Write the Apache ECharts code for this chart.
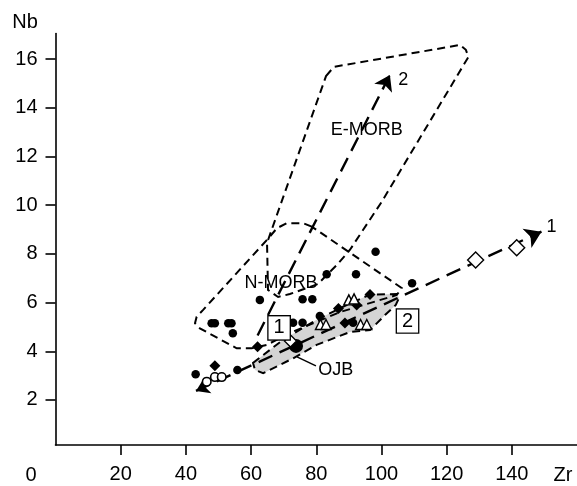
<!DOCTYPE html>
<html>
<head>
<meta charset="utf-8">
<script src="https://cdn.jsdelivr.net/npm/echarts@6/dist/echarts.min.js"></script>
<style>html,body{margin:0;padding:0;background:#fff;}#c{width:577px;height:486px;}</style>
</head>
<body>
<div id="c"></div>
<script>
// ---- data (Zr, Nb) ----
const xTicks = [20, 40, 60, 80, 100, 120, 140];
const yTicks = [2, 4, 6, 8, 10, 12, 14, 16];

const filledCircles = [[43.0,3.06],[55.8,3.23],[47.9,5.15],[48.9,5.15],[53.0,5.15],[54.0,5.15],[54.4,4.74],
  [62.7,6.11],[75.8,6.14],[78.8,6.14],[83.2,7.16],[92.2,7.16],[98.2,8.09],[109.4,6.79],
  [72.9,5.17],[75.8,5.17],[81.1,5.45],[91.3,5.17]];
const filledDiamonds = [[48.9,3.40],[62.0,4.19],[86.8,5.76],[92.4,5.90],[96.5,6.33],[88.8,5.16]];
const openTriangles = [[81.3,5.10],[83.0,5.10],[93.6,5.10],[95.5,5.10],[90.0,6.11],[91.6,6.15]];
const openCircles = [[46.4,2.75],[48.9,2.94],[51.0,2.94]];
const trendDiamonds = [[128.9,7.75],[141.5,8.25]];
const smallOpenDiamond = [[72.1,4.42]];
const bigCircle = [[73.8,4.22]];

const trend1 = [[43.1,2.37],[149.1,8.91]];
const trend2 = [[62.0,4.65],[102.6,15.35]];

const eMorb = [[83.0,15.30],[85.4,15.68],[124.1,16.58],[125.9,16.38],[126.7,16.09],[100.1,10.14],
  [90.3,8.16],[86.3,7.54],[83.2,7.13],[80.5,6.76],[71.9,6.35],[68.3,6.23],[65.2,6.52],[64.9,8.45]];
const nMorb = [[78.6,9.12],[76.0,9.26],[70.9,9.26],[67.9,9.05],[65.8,8.71],[45.3,5.70],[43.3,5.42],
  [42.8,5.15],[44.3,4.94],[55.6,4.12],[60.2,4.12],[64.8,4.26],[71.9,4.75],[87.3,5.61],[104.7,6.31],[106.2,6.60]];
const ojb = [[60.6,3.52],[69.8,4.47],[80.1,5.29],[89.3,5.90],[96.5,6.33],[104.7,6.35],[105.4,6.19],
  [104.4,5.90],[101.1,5.49],[96.5,4.87],[90.3,4.79],[80.1,4.26],[72.9,3.71],[63.7,3.10],[61.2,3.23]];
const ojbLeader = [[74.1,3.77],[79.9,3.40]];

// annotations: text, anchor (data units), boxed
const annotations = [
  ['E-MORB', 95.5, 13.08, false],
  ['N-MORB', 69.2, 6.80, false],
  ['OJB', 86.0, 3.22, false],
  ['1', 152.2, 9.12, false],
  ['2', 106.7, 15.14, false],
  ['1', 68.6, 4.96, true],
  ['2', 108.0, 5.24, true]
];

const FONT = 'Liberation Sans, Arial, sans-serif';

function polygonSeries(points, style, z) {
  return {
    type: 'custom', coordinateSystem: 'cartesian2d', silent: true, z: z, clip: false,
    data: [[points[0][0], points[0][1]]],
    renderItem: function (params, api) {
      return { type: 'polygon', shape: { points: points.map(p => api.coord(p)) }, style: style };
    }
  };
}
function polylineSeries(points, style, z) {
  return {
    type: 'custom', coordinateSystem: 'cartesian2d', silent: true, z: z, clip: false,
    data: [[points[0][0], points[0][1]]],
    renderItem: function (params, api) {
      return { type: 'polyline', shape: { points: points.map(p => api.coord(p)) }, style: style };
    }
  };
}

const chart = echarts.init(document.getElementById('c'), null, { renderer: 'canvas' });
const dashStyle = { fill: null, stroke: '#000', lineWidth: 2, lineDash: [8, 5] };
const solid = { opacity: 1 };

chart.setOption({
  animation: false,
  backgroundColor: '#fff',
  grid: { left: 55.5, right: 0, top: 33.5, bottom: 41, containLabel: false },
  xAxis: {
    type: 'value', min: 0, max: 160, interval: 20,
    axisLine: { onZero: false, lineStyle: { color: '#000', width: 1.6 } },
    axisTick: { show: true, length: 10, customValues: xTicks, lineStyle: { color: '#000', width: 1.6 } },
    axisLabel: { customValues: xTicks, margin: 19, fontSize: 20, color: '#000', fontFamily: FONT },
    splitLine: { show: false }
  },
  yAxis: {
    type: 'value', min: 0.15, max: 17.05,
    axisLine: { show: true, onZero: false, lineStyle: { color: '#000', width: 1.6 } },
    axisTick: { show: true, length: 10, customValues: yTicks, lineStyle: { color: '#000', width: 1.6 } },
    axisLabel: { customValues: yTicks, margin: 18, fontSize: 20, color: '#000', fontFamily: FONT },
    splitLine: { show: false }
  },
  graphic: [
    { type: 'text', x: 25, y: 22, style: { text: 'Nb', font: '20px ' + FONT, fill: '#000', align: 'center', verticalAlign: 'middle' } },
    { type: 'text', x: 563, y: 475, style: { text: 'Zr', font: '20px ' + FONT, fill: '#000', align: 'center', verticalAlign: 'middle' } },
    { type: 'text', x: 31, y: 475, style: { text: '0', font: '20px ' + FONT, fill: '#000', align: 'center', verticalAlign: 'middle' } }
  ],
  series: [
    polygonSeries(ojb, { fill: '#d4d4d4', stroke: '#000', lineWidth: 2, lineDash: [8, 5] }, 1),
    polygonSeries(eMorb, dashStyle, 2),
    polygonSeries(nMorb, dashStyle, 2),
    polylineSeries(ojbLeader, { fill: null, stroke: '#000', lineWidth: 1.5 }, 2),
    {
      type: 'lines', coordinateSystem: 'cartesian2d', z: 3, silent: true,
      symbol: ['arrow', 'arrow'], symbolSize: [13, 16],
      lineStyle: { color: '#000', width: 2.4, type: [15, 8], opacity: 1 },
      data: [{ coords: trend1 }]
    },
    {
      type: 'lines', coordinateSystem: 'cartesian2d', z: 3, silent: true,
      symbol: ['none', 'arrow'], symbolSize: [1, 15],
      lineStyle: { color: '#000', width: 2.4, type: [15, 8], opacity: 1 },
      data: [{ coords: trend2 }]
    },
    { type: 'scatter', z: 5, data: filledCircles, symbol: 'circle', symbolSize: 8.5, itemStyle: { color: '#000', opacity: 1 } },
    { type: 'scatter', z: 5, data: filledDiamonds, symbol: 'diamond', symbolSize: 11, itemStyle: { color: '#000', opacity: 1 } },
    { type: 'scatter', z: 5, data: openTriangles, symbol: 'triangle', symbolSize: 10, itemStyle: { color: '#fff', borderColor: '#000', borderWidth: 1.4, opacity: 1 } },
    { type: 'scatter', z: 5, data: openCircles, symbol: 'circle', symbolSize: 8.5, itemStyle: { color: '#fff', borderColor: '#000', borderWidth: 1.6, opacity: 1 } },
    { type: 'scatter', z: 5, data: trendDiamonds, symbol: 'diamond', symbolSize: 16, itemStyle: { color: '#fff', borderColor: '#000', borderWidth: 1.4, opacity: 1 } },
    { type: 'scatter', z: 5, data: bigCircle, symbol: 'circle', symbolSize: 14, itemStyle: { color: '#000', opacity: 1 } },
    { type: 'scatter', z: 6, data: smallOpenDiamond, symbol: 'diamond', symbolSize: 12, itemStyle: { color: '#fff', borderColor: '#000', borderWidth: 1.4, opacity: 1 } },
    {
      type: 'custom', coordinateSystem: 'cartesian2d', z: 8, silent: true, clip: false,
      data: annotations.map(a => [a[1], a[2]]),
      renderItem: function (params, api) {
        const a = annotations[params.dataIndex];
        const p = api.coord([api.value(0), api.value(1)]);
        const st = { text: a[0], fill: '#000', font: (a[3] ? '20px ' : '18px ') + FONT, align: 'center', verticalAlign: 'middle' };
        if (a[3]) { st.backgroundColor = '#fff'; st.borderColor = '#000'; st.borderWidth = 1.3; st.padding = [2, 5, 1, 5]; }
        return { type: 'text', x: p[0], y: p[1], style: st };
      }
    }
  ]
});
</script>
</body>
</html>
